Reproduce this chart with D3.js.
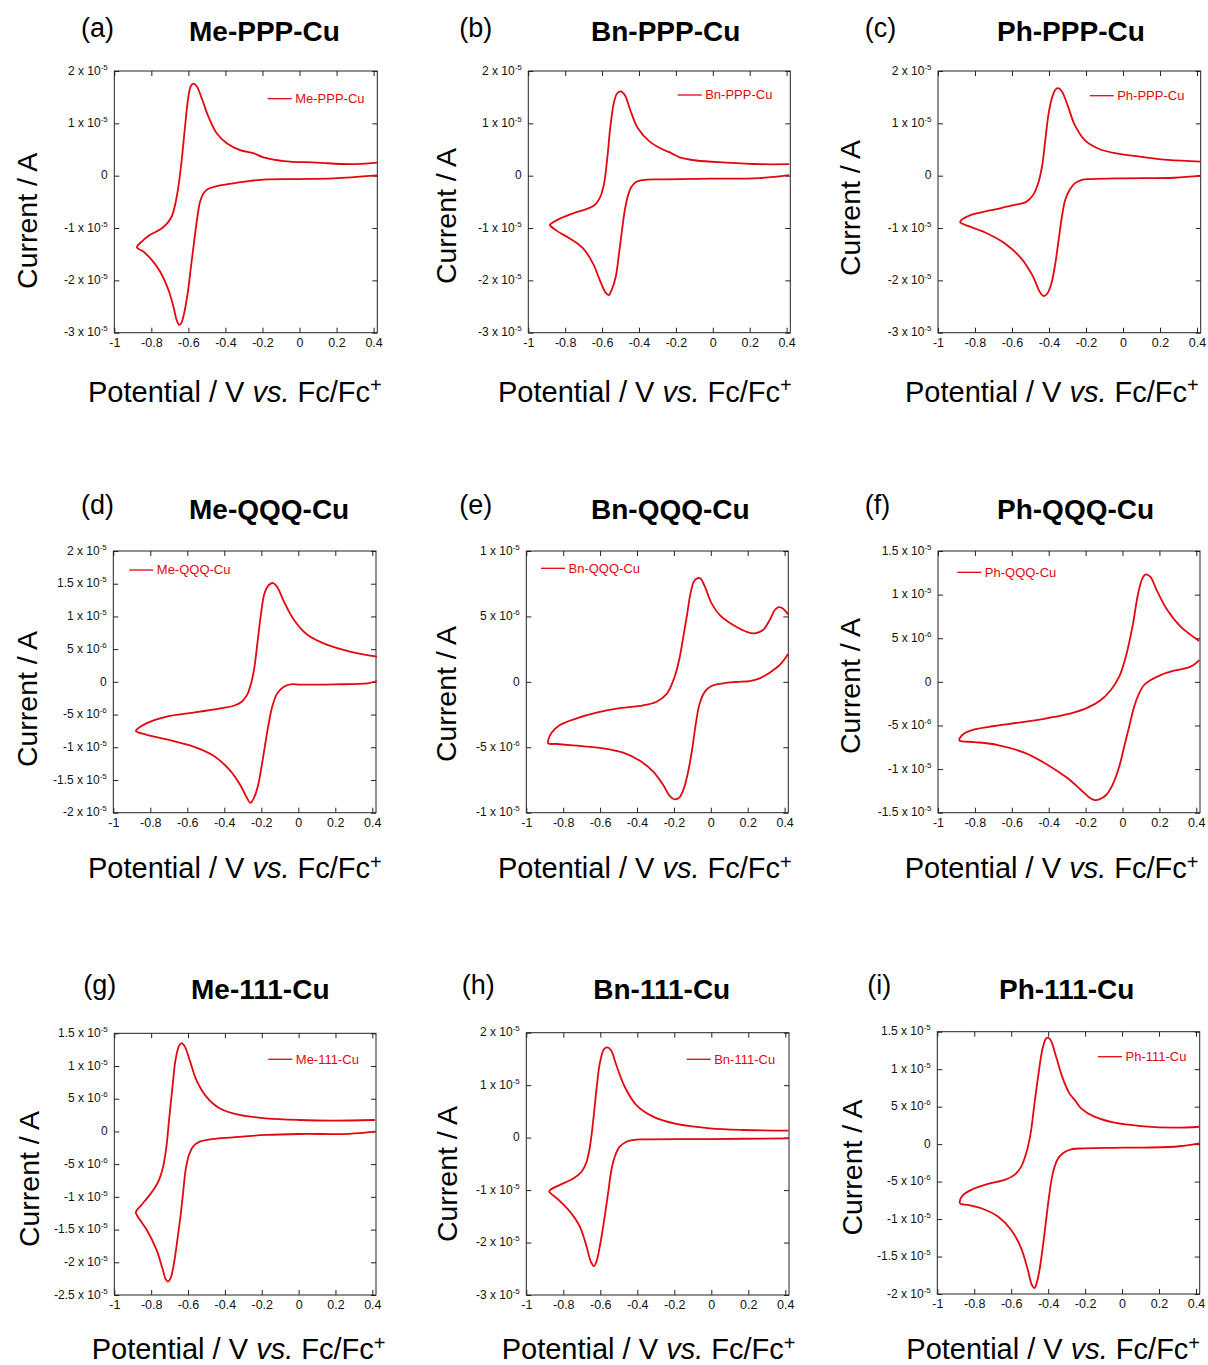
<!DOCTYPE html>
<html>
<head>
<meta charset="utf-8">
<script src="https://cdn.jsdelivr.net/npm/d3@7"></script>
<style>
  body { margin: 0; background: #fff; }
  svg { display: block; }
  text { font-family: "Liberation Sans", Arial, Helvetica, sans-serif; }
</style>
</head>
<body>
<svg id="fig" width="1208" height="1365"></svg>
<script>
// Cyclic voltammograms of the nine Cu complexes.
// Each scan runs from +0.42 V down to the switching potential and back.
// Potentials in V vs. Fc/Fc+, currents in microamperes.

const xTickValues = [-1, -0.8, -0.6, -0.4, -0.2, 0, 0.2, 0.4];
const xDomain = [-1, 0.42];

const yTicks3to2 = [-3e-5, -2e-5, -1e-5, 0, 1e-5, 2e-5];
const yTicks2to2 = [-2e-5, -1.5e-5, -1e-5, -5e-6, 0, 5e-6, 1e-5, 1.5e-5, 2e-5];
const yTicks1to1 = [-1e-5, -5e-6, 0, 5e-6, 1e-5];
const yTicks15to15 = [-1.5e-5, -1e-5, -5e-6, 0, 5e-6, 1e-5, 1.5e-5];
const yTicks25to15 = [-2.5e-5, -2e-5, -1.5e-5, -1e-5, -5e-6, 0, 5e-6, 1e-5, 1.5e-5];
const yTicks2to15 = [-2e-5, -1.5e-5, -1e-5, -5e-6, 0, 5e-6, 1e-5, 1.5e-5];

const mePPPPotential = [0.418, 0.184, 0.0, -0.177, -0.267, -0.357, -0.447, -0.492, -0.519, -0.537, -0.551, -0.568, -0.586, -0.604, -0.623, -0.640, -0.650, -0.663, -0.681, -0.708, -0.753, -0.798, -0.843, -0.878,
  -0.852, -0.807, -0.753, -0.717, -0.690, -0.672, -0.654, -0.636, -0.618, -0.600, -0.587, -0.573, -0.555, -0.528, -0.492, -0.447, -0.393, -0.321, -0.249, -0.195, -0.086, 0.094, 0.274, 0.418];
const mePPPCurrent = [0.06, -0.5, -0.64, -0.7, -1.0, -1.46, -2.0, -2.5, -3.4, -5.0, -7.8, -12.3, -17.4, -22.5, -26.3, -28.3, -28.5, -27.6, -25.0, -21.8, -18.3, -16.1, -14.5, -13.7,
  -12.6, -11.3, -10.3, -9.2, -7.8, -5.6, -2.1, 3.0, 9.4, 15.1, 17.1, 17.6, 17.1, 14.8, 11.3, 8.1, 6.2, 4.9, 4.3, 3.5, 2.8, 2.5, 2.2, 2.5];

const bnPPPPotential = [0.414, 0.252, -0.018, -0.288, -0.378, -0.414, -0.441, -0.459, -0.477, -0.492, -0.508, -0.526, -0.548, -0.564, -0.580, -0.613, -0.649, -0.703, -0.775, -0.847, -0.883,
  -0.874, -0.829, -0.757, -0.685, -0.640, -0.613, -0.591, -0.573, -0.555, -0.537, -0.519, -0.499, -0.477, -0.447, -0.405, -0.342, -0.270, -0.225, -0.180, -0.090, 0.072, 0.252, 0.414];
const bnPPPCurrent = [0.1, -0.45, -0.57, -0.7, -0.83, -1.15, -2.1, -3.7, -6.6, -10.4, -14.8, -19.3, -21.8, -22.8, -22.4, -19.9, -16.8, -13.9, -12.0, -10.5, -9.4,
  -9.1, -8.2, -7.2, -6.4, -5.6, -4.3, -1.8, 3.0, 9.4, 13.8, 15.7, 16.1, 15.4, 12.5, 9.0, 6.5, 5.0, 4.3, 3.5, 2.9, 2.5, 2.2, 2.2];

const phPPPPotential = [0.420, 0.279, 0.009, -0.171, -0.225, -0.261, -0.288, -0.312, -0.330, -0.348, -0.366, -0.387, -0.409, -0.429, -0.450, -0.486, -0.550, -0.640, -0.748, -0.838, -0.880,
  -0.874, -0.820, -0.712, -0.586, -0.523, -0.486, -0.459, -0.438, -0.420, -0.402, -0.382, -0.364, -0.348, -0.330, -0.297, -0.261, -0.207, -0.135, -0.045, 0.099, 0.243, 0.420];
const phPPPCurrent = [0.0, -0.4, -0.5, -0.64, -0.83, -1.46, -2.7, -4.6, -7.8, -12.3, -16.8, -20.6, -22.5, -23.0, -22.2, -19.3, -15.8, -12.9, -10.8, -9.6, -8.9,
  -8.5, -7.5, -6.6, -5.6, -5.0, -3.7, -1.5, 1.7, 6.8, 11.9, 15.1, 16.5, 16.7, 16.1, 13.2, 9.7, 6.8, 5.2, 4.3, 3.6, 3.0, 2.7];

const meQQQPotential = [0.425, 0.374, 0.193, 0.013, -0.042, -0.078, -0.114, -0.141, -0.163, -0.181, -0.199, -0.219, -0.241, -0.259, -0.280, -0.313, -0.367, -0.458, -0.566, -0.711, -0.819, -0.878,
  -0.870, -0.819, -0.711, -0.566, -0.421, -0.349, -0.304, -0.277, -0.255, -0.237, -0.219, -0.201, -0.183, -0.159, -0.136, -0.114, -0.078, -0.024, 0.049, 0.157, 0.284, 0.425];
const meQQQCurrent = [0.13, -0.23, -0.38, -0.43, -0.38, -0.74, -1.76, -3.8, -6.85, -9.9, -13.0, -16.0, -17.8, -18.5, -17.6, -15.8, -13.6, -11.3, -9.9, -8.8, -8.1, -7.5,
  -7.2, -6.3, -5.3, -4.7, -4.05, -3.65, -3.0, -2.0, -0.2, 2.3, 6.4, 10.5, 13.5, 14.8, 15.1, 14.5, 12.3, 9.5, 7.2, 5.65, 4.6, 3.85];

const bnQQQPotential = [0.419, 0.374, 0.319, 0.265, 0.211, 0.139, 0.067, 0.004, -0.032, -0.060, -0.081, -0.099, -0.121, -0.146, -0.171, -0.195, -0.222, -0.258, -0.312, -0.384, -0.475, -0.583, -0.727, -0.836, -0.881,
  -0.881, -0.863, -0.818, -0.727, -0.619, -0.511, -0.366, -0.294, -0.244, -0.213, -0.190, -0.168, -0.146, -0.128, -0.110, -0.092, -0.074, -0.056, -0.032, 0.004, 0.049, 0.121, 0.193, 0.238, 0.283, 0.319, 0.347, 0.365, 0.388, 0.419];
const bnQQQCurrent = [2.13, 1.29, 0.7, 0.27, 0.06, -0.01, -0.11, -0.32, -0.75, -1.64, -3.17, -4.96, -6.74, -8.14, -8.85, -8.98, -8.73, -7.89, -6.86, -6.03, -5.41, -5.08, -4.88, -4.75, -4.7,
  -4.45, -3.89, -3.3, -2.79, -2.36, -2.05, -1.8, -1.52, -1.0, -0.24, 0.65, 1.92, 3.7, 5.2, 6.76, 7.66, 7.91, 7.9, 7.27, 6.0, 5.1, 4.34, 3.83, 3.7, 3.96, 4.72, 5.49, 5.7, 5.62, 5.16];

const phQQQPotential = [0.416, 0.369, 0.279, 0.207, 0.153, 0.117, 0.090, 0.063, 0.036, 0.009, -0.018, -0.054, -0.090, -0.126, -0.150, -0.180, -0.225, -0.297, -0.405, -0.532, -0.676, -0.802, -0.883,
  -0.883, -0.856, -0.802, -0.694, -0.550, -0.405, -0.279, -0.189, -0.117, -0.063, -0.018, 0.018, 0.054, 0.085, 0.108, 0.126, 0.150, 0.189, 0.243, 0.315, 0.416];
const phQQQCurrent = [2.5, 1.74, 1.28, 0.78, 0.21, -0.36, -1.32, -2.85, -5.14, -7.43, -9.73, -11.8, -13.0, -13.47, -13.55, -13.25, -12.4, -11.06, -9.53, -8.12, -7.24, -6.9, -6.75,
  -6.48, -5.9, -5.45, -5.06, -4.64, -4.15, -3.61, -2.96, -2.08, -0.94, 0.59, 2.89, 6.33, 10.15, 11.87, 12.32, 12.06, 10.34, 8.23, 6.33, 4.68];

const me111Potential = [0.414, 0.274, 0.004, -0.177, -0.357, -0.465, -0.537, -0.573, -0.595, -0.613, -0.627, -0.641, -0.658, -0.676, -0.694, -0.708, -0.721, -0.739, -0.771, -0.825, -0.861, -0.883,
  -0.879, -0.852, -0.816, -0.780, -0.757, -0.735, -0.717, -0.703, -0.686, -0.668, -0.650, -0.636, -0.618, -0.591, -0.555, -0.501, -0.429, -0.321, -0.177, 0.004, 0.184, 0.414];
const me111Current = [-0.03, -0.36, -0.39, -0.54, -0.9, -1.15, -1.56, -2.32, -3.6, -5.89, -9.46, -13.0, -16.6, -20.1, -22.4, -22.95, -22.6, -20.9, -18.1, -15.0, -13.5, -12.4,
  -12.1, -11.2, -10.0, -8.6, -7.4, -5.4, -2.3, 1.75, 6.34, 10.9, 13.0, 13.5, 13.0, 10.9, 7.87, 5.32, 3.54, 2.52, 2.01, 1.75, 1.65, 1.75];

const bn111Potential = [0.417, -0.009, -0.369, -0.423, -0.459, -0.495, -0.522, -0.540, -0.558, -0.579, -0.603, -0.621, -0.635, -0.651, -0.674, -0.710, -0.764, -0.827, -0.876,
  -0.872, -0.818, -0.746, -0.701, -0.674, -0.656, -0.638, -0.621, -0.603, -0.581, -0.563, -0.543, -0.513, -0.468, -0.405, -0.315, -0.189, -0.009, 0.171, 0.417];
const bn111Current = [-0.14, -0.27, -0.33, -0.46, -0.78, -1.73, -3.64, -6.18, -10.63, -15.7, -20.8, -23.65, -24.5, -23.65, -20.8, -17.0, -14.1, -11.8, -10.3,
  -10.0, -9.0, -7.8, -6.5, -4.6, -1.7, 3.35, 9.07, 14.1, 16.8, 17.2, 16.7, 13.8, 9.7, 6.2, 4.0, 2.6, 1.77, 1.45, 1.32];

const ph111Potential = [0.418, 0.283, 0.013, -0.204, -0.276, -0.321, -0.351, -0.375, -0.393, -0.411, -0.429, -0.447, -0.463, -0.474, -0.488, -0.510, -0.546, -0.600, -0.672, -0.762, -0.834, -0.876,
  -0.879, -0.861, -0.816, -0.726, -0.636, -0.582, -0.546, -0.519, -0.495, -0.474, -0.452, -0.432, -0.414, -0.402, -0.387, -0.357, -0.321, -0.285, -0.249, -0.222, -0.150, -0.041, 0.103, 0.283, 0.418];
const ph111Current = [0.1, -0.35, -0.48, -0.57, -0.7, -1.23, -2.12, -3.9, -6.56, -10.1, -13.7, -16.8, -18.6, -19.2, -18.8, -16.8, -13.9, -11.45, -9.67, -8.56, -8.12, -7.95,
  -7.68, -6.8, -6.1, -5.32, -4.78, -4.1, -3.0, -1.23, 1.44, 5.44, 9.44, 12.55, 14.0, 14.2, 13.9, 11.66, 8.78, 6.77, 5.66, 4.78, 3.66, 2.86, 2.41, 2.19, 2.32];

// Panel layout: plot box [left, top, right, bottom] and text anchors (px).
const panels = [
  { tag: "(a)", name: "Me-PPP-Cu", E: mePPPPotential, I: mePPPCurrent, yTicks: yTicks3to2,
    box: [114.3, 71, 377.3, 332.7], tagAt: [81, 36.5], titleAt: [189, 40.5], xLabAt: [88, 401.5], yLabAt: [37.2, 220.8], legAt: [267.7, 98.7] },
  { tag: "(b)", name: "Bn-PPP-Cu", E: bnPPPPotential, I: bnPPPCurrent, yTicks: yTicks3to2,
    box: [528.3, 71, 790.3, 332.7], tagAt: [459.3, 36.5], titleAt: [591, 40.5], xLabAt: [498, 401.5], yLabAt: [455.5, 216], legAt: [677.7, 95] },
  { tag: "(c)", name: "Ph-PPP-Cu", E: phPPPPotential, I: phPPPCurrent, yTicks: yTicks3to2,
    box: [938, 71, 1200.7, 332.7], tagAt: [864.7, 36.5], titleAt: [997, 40.5], xLabAt: [905, 401.5], yLabAt: [860.2, 208], legAt: [1089.7, 95.7] },
  { tag: "(d)", name: "Me-QQQ-Cu", E: meQQQPotential, I: meQQQCurrent, yTicks: yTicks2to2,
    box: [113.3, 551, 376, 812.7], tagAt: [81, 513.5], titleAt: [189, 519.3], xLabAt: [88, 878.3], yLabAt: [37.2, 699], legAt: [129.3, 570] },
  { tag: "(e)", name: "Bn-QQQ-Cu", E: bnQQQPotential, I: bnQQQCurrent, yTicks: yTicks1to1,
    box: [526.3, 551, 788.3, 812.7], tagAt: [459.3, 513.5], titleAt: [591, 519.3], xLabAt: [498, 878.3], yLabAt: [455.5, 694], legAt: [541, 568.3] },
  { tag: "(f)", name: "Ph-QQQ-Cu", E: phQQQPotential, I: phQQQCurrent, yTicks: yTicks15to15,
    box: [938, 551, 1200, 812.7], tagAt: [864.7, 513.5], titleAt: [997, 519.3], xLabAt: [904.7, 878.3], yLabAt: [860.2, 686], legAt: [957.3, 572.3] },
  { tag: "(g)", name: "Me-111-Cu", E: me111Potential, I: me111Current, yTicks: yTicks25to15,
    box: [114.3, 1033.3, 376, 1295], tagAt: [83.3, 994], titleAt: [191, 999.3], xLabAt: [91.7, 1359.3], yLabAt: [38.8, 1179], legAt: [268.3, 1059.3] },
  { tag: "(h)", name: "Bn-111-Cu", E: bn111Potential, I: bn111Current, yTicks: yTicks3to2,
    box: [526.3, 1032.7, 789, 1295], tagAt: [461.7, 994], titleAt: [593.3, 999.3], xLabAt: [501.7, 1359.3], yLabAt: [457.2, 1174], legAt: [686.7, 1059.3] },
  { tag: "(i)", name: "Ph-111-Cu", E: ph111Potential, I: ph111Current, yTicks: yTicks2to15,
    box: [937.3, 1031.7, 1199.7, 1294], tagAt: [867.3, 994], titleAt: [999, 999.3], xLabAt: [906.3, 1359.3], yLabAt: [861.8, 1167.5], legAt: [1098, 1056.7] }
];

const RED = "#e3070f";
const AXIS = "#222";
const FONT = '"Liberation Sans", Arial, Helvetica, sans-serif';

const svg = d3.select("#fig");

panels.forEach(p => {
  const [l, t, r, b] = p.box;
  const x = d3.scaleLinear().domain(xDomain).range([l, r]);
  const y = d3.scaleLinear().domain([p.yTicks[0], p.yTicks[p.yTicks.length - 1]]).range([b, t]);
  const g = svg.append("g");

  // inward ticks on all four sides
  const bottom = g.append("g").attr("transform", `translate(0,${b})`)
    .call(d3.axisBottom(x).tickValues(xTickValues).tickSizeInner(-5).tickSizeOuter(0)
      .tickPadding(5.3).tickFormat(d => String(d)));
  const top = g.append("g").attr("transform", `translate(0,${t})`)
    .call(d3.axisTop(x).tickValues(xTickValues).tickSizeInner(-5).tickSizeOuter(0).tickFormat(""));
  const left = g.append("g").attr("transform", `translate(${l},0)`)
    .call(d3.axisLeft(y).tickValues(p.yTicks).tickSizeInner(-5).tickSizeOuter(0)
      .tickPadding(6.5).tickFormat(d => d === 0 ? "0" : d.toExponential().split("e")[0] + " x 10"));
  const right = g.append("g").attr("transform", `translate(${r},0)`)
    .call(d3.axisRight(y).tickValues(p.yTicks).tickSizeInner(-5).tickSizeOuter(0).tickFormat(""));

  [bottom, top, left, right].forEach(a => {
    a.attr("color", AXIS).attr("font-family", FONT);
    a.select(".domain").remove();
  });
  bottom.attr("font-size", 12.5).selectAll("text").attr("fill", "#111");
  left.attr("font-size", 12).selectAll(".tick text").attr("fill", "#111").attr("dy", "0.27em")
    .each(function (d) {
      if (d === 0) return;
      const ex = d.toExponential().split("e")[1].replace("+", "");
      d3.select(this).append("tspan").attr("font-size", 8).attr("dy", -5).text(ex);
    });

  g.append("rect").attr("x", l).attr("y", t).attr("width", r - l).attr("height", b - t)
    .attr("fill", "none").attr("stroke", AXIS).attr("stroke-width", 1);

  // voltammogram trace
  const pts = p.E.map((e, i) => [e, p.I[i] * 1e-6]);
  const line = d3.line().x(d => x(d[0])).y(d => y(d[1])).curve(d3.curveCatmullRom.alpha(0.5));
  g.append("path").datum(pts).attr("d", line)
    .attr("fill", "none").attr("stroke", RED).attr("stroke-width", 1.8).attr("stroke-linejoin", "round");

  // legend
  const [lx, ly] = p.legAt;
  g.append("line").attr("x1", lx).attr("x2", lx + 24).attr("y1", ly).attr("y2", ly)
    .attr("stroke", RED).attr("stroke-width", 1.3);
  g.append("text").attr("x", lx + 27.5).attr("y", ly + 4.4).attr("font-size", 13)
    .attr("fill", RED).text(p.name);

  // panel tag and title
  g.append("text").attr("x", p.tagAt[0]).attr("y", p.tagAt[1]).attr("font-size", 27).text(p.tag);
  g.append("text").attr("x", p.titleAt[0]).attr("y", p.titleAt[1]).attr("font-size", 28)
    .attr("font-weight", "bold").text(p.name);

  // axis titles
  const xl = g.append("text").attr("x", p.xLabAt[0]).attr("y", p.xLabAt[1]).attr("font-size", 29);
  xl.append("tspan").text("Potential / V ");
  xl.append("tspan").attr("font-style", "italic").text("vs.");
  xl.append("tspan").text(" Fc/Fc");
  xl.append("tspan").attr("font-size", 20).attr("dy", -9.5).text("+");

  g.append("text").attr("transform", `translate(${p.yLabAt[0]},${p.yLabAt[1]}) rotate(-90)`)
    .attr("text-anchor", "middle").attr("font-size", 28.5).text("Current / A");
});
</script>
</body>
</html>
